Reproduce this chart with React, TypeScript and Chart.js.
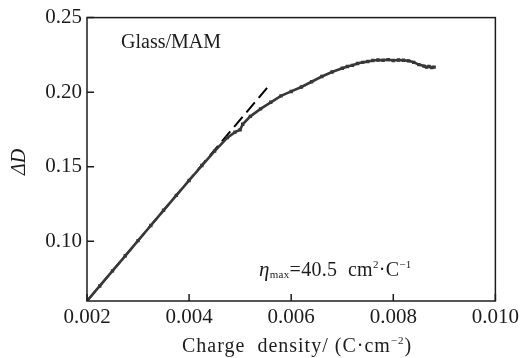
import React, { useEffect, useRef } from "react";
import { Chart, registerables } from "chart.js";

Chart.register(...registerables);

const chargeDensity = [
  0.002, 0.00225, 0.0025, 0.00275, 0.003, 0.00325, 0.0035, 0.00375, 0.004,
  0.00425, 0.0045, 0.00475, 0.0049, 0.005, 0.00505, 0.0052, 0.0054, 0.0056,
  0.0058, 0.006, 0.0062, 0.0064, 0.0066, 0.0068, 0.007, 0.0071, 0.0072,
  0.0073, 0.0074, 0.0075, 0.0076, 0.0077, 0.0078, 0.0079, 0.008, 0.0081,
  0.0082, 0.0083, 0.0084, 0.0085, 0.0086, 0.00865, 0.0087, 0.00875, 0.0088,
];
const deltaD = [
  0.06, 0.0701, 0.0802, 0.0903, 0.1005, 0.1106, 0.1208, 0.1308, 0.1408,
  0.1508, 0.1605, 0.1695, 0.1732, 0.1748, 0.1785, 0.1838, 0.1888, 0.1932,
  0.1975, 0.2005, 0.2035, 0.207, 0.2105, 0.2135, 0.216, 0.2172, 0.218, 0.2192,
  0.22, 0.2206, 0.2212, 0.2216, 0.2214, 0.2218, 0.2212, 0.2216, 0.2214, 0.221,
  0.22, 0.2185, 0.2175, 0.2168, 0.2172, 0.2165, 0.2168,
];
const fitX = [0.002, 0.0056];
const fitY = [0.06, 0.2058];
const xTicks = [0.002, 0.004, 0.006, 0.008, 0.01];
const yTicks = [0.1, 0.15, 0.2, 0.25];
const sampleLabel = "Glass/MAM";

const SERIF = '"Liberation Serif", "Times New Roman", serif';
const INK = "#1c1c1c";

const textPlugin = {
  id: "annot",
  afterDraw(chart: any) {
    const { ctx, chartArea: a, scales } = chart;
    ctx.save();
    // frame
    ctx.strokeStyle = INK;
    ctx.lineWidth = 1.5;
    ctx.strokeRect(a.left, a.top, a.right - a.left, a.bottom - a.top);
    // inward ticks
    ctx.beginPath();
    xTicks.forEach((v) => {
      const px = scales.x.getPixelForValue(v);
      ctx.moveTo(px, a.bottom);
      ctx.lineTo(px, a.bottom - 7);
    });
    yTicks.forEach((v) => {
      const py = scales.y.getPixelForValue(v);
      ctx.moveTo(a.left, py);
      ctx.lineTo(a.left + 7, py);
    });
    ctx.stroke();

    ctx.fillStyle = INK;
    ctx.textBaseline = "alphabetic";
    ctx.textAlign = "left";

    // sample label
    ctx.font = `20px ${SERIF}`;
    ctx.fillText(sampleLabel, 121, 48);

    const flow = (x0: number, y0: number, parts: [string, string, number][], spacing: string) => {
      let x = x0;
      parts.forEach(([t, font, dy]) => {
        ctx.font = font;
        (ctx as any).letterSpacing = spacing;
        ctx.fillText(t, x, y0 + dy);
        x += ctx.measureText(t).width;
      });
      (ctx as any).letterSpacing = "0px";
    };
    const big = `20px ${SERIF}`;
    const small = `11px ${SERIF}`;

    // eta_max annotation
    flow(
      259,
      276,
      [
        ["η", `italic 21px ${SERIF}`, 0],
        ["max", small, 2],
        ["=40.5  cm", big, 0],
        ["2", small, -8],
        ["·C", big, 0],
        ["−1", small, -8],
      ],
      "0.3px"
    );

    // x axis title
    flow(
      182,
      352,
      [
        ["Charge  density/ (C·cm", big, 0],
        ["−2", small, -8],
        [")", big, 0],
      ],
      "1px"
    );

    // y axis title
    ctx.translate(20, 162);
    ctx.rotate(-Math.PI / 2);
    ctx.textAlign = "center";
    ctx.textBaseline = "middle";
    ctx.font = `italic 20px ${SERIF}`;
    ctx.fillText("ΔD", 0, 0);
    ctx.restore();
  },
};

export default function App() {
  const ref = useRef<HTMLCanvasElement>(null);
  useEffect(() => {
    document.body.style.margin = "0";
    const canvas = ref.current!;
    const chart = new Chart(canvas, {
      type: "scatter",
      data: {
        datasets: [
          {
            data: chargeDensity.map((v, i) => ({ x: v, y: deltaD[i] })),
            showLine: true,
            borderColor: "#383838",
            backgroundColor: "#383838",
            borderWidth: 2.6,
            pointStyle: "rect",
            pointRadius: 2.4,
            pointBorderWidth: 0,
            tension: 0,
          },
          {
            data: fitX.map((v, i) => ({ x: v, y: fitY[i] })),
            showLine: true,
            borderColor: "#000000",
            borderWidth: 2,
            borderDash: [13, 6],
            pointRadius: 0,
          },
        ],
      },
      options: {
        responsive: false,
        animation: false,
        layout: { padding: { top: 16, right: 25, left: 0, bottom: 0 } },
        plugins: { legend: { display: false }, tooltip: { enabled: false } },
        scales: {
          x: {
            type: "linear",
            min: 0.002,
            max: 0.01,
            grid: { display: false, drawTicks: false },
            border: { display: false },
            afterBuildTicks: (s: any) => {
              s.ticks = xTicks.map((v) => ({ value: v }));
            },
            afterFit: (s: any) => {
              s.height = 57;
            },
            ticks: {
              padding: 4,
              color: INK,
              font: { family: SERIF, size: 21 },
              maxRotation: 0,
              callback: (v: any) => Number(v).toFixed(3),
            },
          },
          y: {
            type: "linear",
            min: 0.06,
            max: 0.25,
            grid: { display: false, drawTicks: false },
            border: { display: false },
            afterBuildTicks: (s: any) => {
              s.ticks = yTicks.map((v) => ({ value: v }));
            },
            afterFit: (s: any) => {
              s.width = 87;
            },
            ticks: {
              padding: 5,
              color: INK,
              font: { family: SERIF, size: 21 },
              callback: (v: any) => Number(v).toFixed(2),
            },
          },
        },
      },
      plugins: [textPlugin],
    });
    return () => chart.destroy();
  }, []);
  return <canvas ref={ref} width={523} height={358} />;
}
